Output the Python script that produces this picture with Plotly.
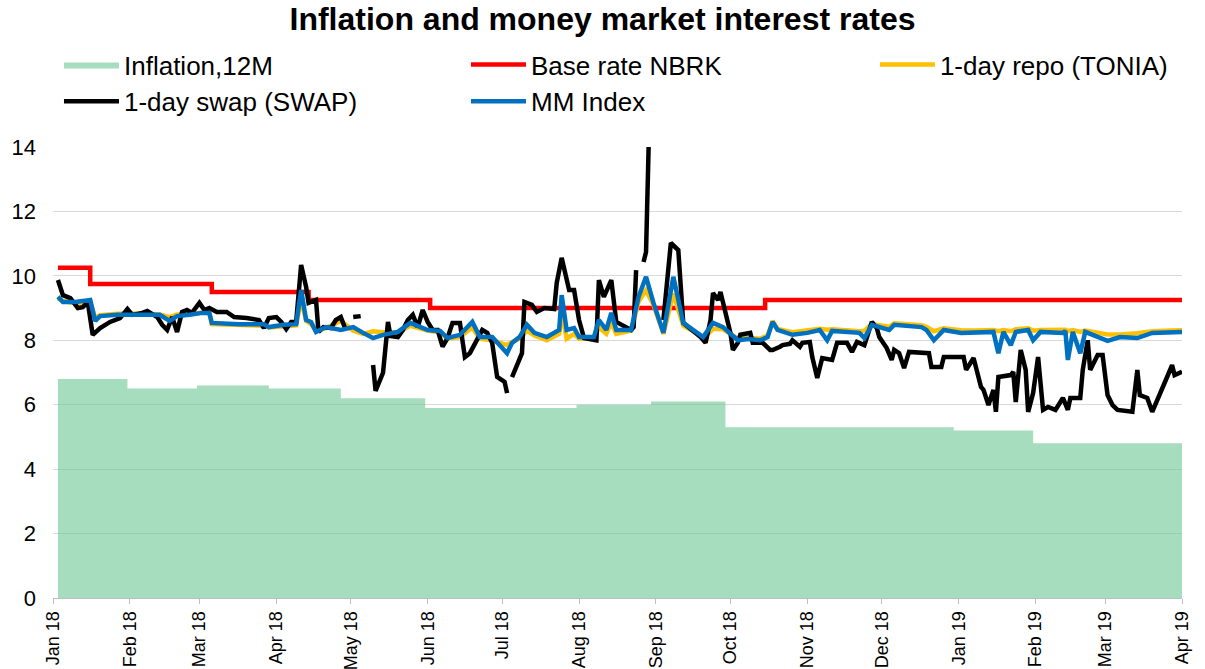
import plotly.graph_objects as go
import pandas as pd

# daily series are keyed by calendar day counted from 1 Jan 2018
START = pd.Timestamp('2018-01-01')

infl_dates = ['2018-01-03', '2018-01-31', '2018-02-28', '2018-03-29', '2018-04-27', '2018-05-31',
              '2018-07-31', '2018-08-30', '2018-09-29', '2018-12-30', '2019-01-31', '2019-04-01']
infl_12m = [6.8, 6.5, 6.6, 6.5, 6.2, 5.9, 6.0, 6.1, 5.3, 5.2, 4.8, 4.8]

base_dates = ['2018-01-03', '2018-01-16', '2018-03-06', '2018-04-14', '2018-06-02', '2018-10-15', '2019-04-01']
base_rate = [10.25, 9.75, 9.5, 9.25, 9.0, 9.25, 9.25]

mm_day = [2, 4, 9, 14, 15, 17, 19, 26, 35, 43,
          47, 50, 55, 60, 63, 64, 75, 85, 87, 93,
          98, 100, 102, 104, 106, 110, 116, 121, 125, 129,
          133, 139, 144, 151, 156, 159, 164, 169, 172, 177,
          183, 185, 188, 191, 194, 199, 204, 205, 207, 210,
          212, 218, 220, 223, 225, 227, 233, 236, 239, 242,
          246, 250, 254, 260, 262, 266, 270, 276, 280, 285,
          288, 290, 292, 298, 304, 309, 312, 314, 325, 327,
          330, 337, 339, 350, 352, 355, 359, 366, 372, 379,
          381, 383, 386, 388, 393, 395, 398, 407, 408, 409,
          411, 414, 416, 425, 430, 437, 443, 451, 455]
mm_index = [9.35, 9.19, 9.19, 9.25, 9.25, 8.6, 8.75, 8.79, 8.79, 8.79,
            8.6, 8.75, 8.79, 8.85, 8.85, 8.54, 8.5, 8.5, 8.41, 8.48,
            8.5, 9.56, 8.63, 8.57, 8.26, 8.41, 8.32, 8.41, 8.23, 8.07,
            8.17, 8.26, 8.54, 8.32, 8.29, 8.07, 8.17, 8.57, 8.1, 8.1,
            7.6, 7.92, 8.1, 8.48, 8.23, 8.1, 8.32, 9.4, 8.32, 8.38,
            8.1, 8.1, 8.63, 8.32, 8.85, 8.32, 8.32, 9.35, 9.97, 9.16,
            8.23, 9.97, 8.54, 8.23, 8.1, 8.54, 8.41, 8.0, 8.04, 8.0,
            8.1, 8.57, 8.32, 8.17, 8.23, 8.32, 8.0, 8.29, 8.23, 8.07,
            8.48, 8.32, 8.48, 8.41, 8.32, 8.0, 8.32, 8.23, 8.23, 8.26,
            7.6, 8.26, 7.85, 8.26, 8.32, 8.0, 8.26, 8.23, 8.29, 7.39,
            8.26, 7.6, 8.26, 7.98, 8.1, 8.07, 8.23, 8.26, 8.26]
tonia = [9.3, 9.22, 9.15, 9.2, 9.2, 8.7, 8.78, 8.82, 8.83, 8.8,
         8.72, 8.8, 8.8, 8.86, 8.85, 8.5, 8.46, 8.45, 8.4, 8.45,
         8.46, 9.3, 8.6, 8.5, 8.3, 8.38, 8.6, 8.3, 8.2, 8.28,
         8.25, 8.25, 8.45, 8.3, 8.25, 8.05, 8.1, 8.4, 8.05, 8.0,
         7.85, 7.95, 8.05, 8.3, 8.15, 8.0, 8.2, 8.9, 8.05, 8.2,
         8.05, 8.05, 8.4, 8.2, 8.55, 8.2, 8.3, 9.2, 9.55, 9.1,
         8.2, 9.45, 8.45, 8.2, 8.05, 8.35, 8.35, 8.05, 8.08, 8.05,
         8.15, 8.6, 8.35, 8.25, 8.3, 8.36, 8.33, 8.34, 8.28, 8.3,
         8.5, 8.42, 8.53, 8.47, 8.42, 8.28, 8.37, 8.31, 8.3, 8.32,
         8.28, 8.32, 8.28, 8.34, 8.37, 8.3, 8.32, 8.3, 8.33, 8.28,
         8.32, 8.26, 8.3, 8.18, 8.18, 8.22, 8.28, 8.3, 8.31]

# None = no quote that day (gaps in the line)
swap_day = [2, 4, 7, 10, 12, 14, 16, 19, 23, 27,
            30, 32, 36, 38, 42, 44, 46, 48, 50, 52,
            54, 56, 59, 61, 63, 66, 70, 73, 78, 83,
            85, 87, 90, 92, 94, 96, 98, 100, 102, 103,
            106, 107, 109, 112, 114, 116, 118, 119, 121, 124,
            126, 129, 130, 133, 135, 136, 139, 141, 143, 145,
            147, 149, 151, 153, 155, 157, 159, 161, 164, 165,
            166, 168, 171, 173, 175, 177, 179, 181, 182, 183,
            184, 185, 189, 190, 193, 195, 198, 202, 203, 205,
            208, 210, 212, 214, 219, 220, 222, 225, 227, 233,
            234, 235, 236, 238, 239, 241, 242, 246, 249, 252,
            254, 256, 261, 263, 265, 266, 268, 269, 272, 273,
            274, 276, 277, 281, 282, 286, 289, 290, 293, 294,
            297, 298, 301, 302, 305, 306, 308, 310, 314, 316,
            320, 322, 324, 327, 330, 332, 333, 336, 338, 339,
            341, 343, 345, 353, 354, 358, 359, 367, 368, 371,
            374, 375, 377, 379, 380, 381, 386, 387, 388, 390,
            392, 393, 395, 397, 399, 401, 404, 407, 409, 410,
            414, 415, 417, 418, 421, 423, 425, 427, 429, 433,
            435, 437, 438, 441, 443, 449, 451, 452, 455]
swap = [9.87, 9.4, 9.31, 9.0, 9.03, 9.19, 8.17, 8.38, 8.57, 8.69,
        8.97, 8.79, 8.85, 8.91, 8.72, 8.48, 8.32, 8.72, 8.26, 8.88,
        8.94, 8.85, 9.16, 8.94, 9.0, 8.88, 8.88, 8.72, 8.69, 8.63,
        8.38, 8.69, 8.72, 8.57, 8.35, 8.57, 8.57, 10.34, 9.66, 9.16,
        9.25, 8.26, 8.41, 8.38, 8.63, 8.72, 8.32, None, 8.72, 8.75,
        None, 7.23, 6.43, 6.99, 8.57, 8.13, 8.1, 8.32, 8.63, 8.79,
        8.41, 8.94, 8.57, 8.32, 8.32, 7.8, 8.07, 8.54, 8.54, 8.0,
        7.48, 7.6, 8.0, 8.32, 8.23, 7.92, 6.86, 6.77, 6.71, 6.36,
        None, 6.86, 7.6, 9.19, 9.1, 8.88, 9.0, 8.97, 9.78, 10.56,
        9.56, 9.56, 8.63, 8.07, 8.0, 9.87, 9.35, 9.87, 8.57, 8.32,
        8.41, 10.18, None, 10.43, 10.74, 17.0, None, 8.63, 11.02, 10.8,
        8.54, 8.41, 8.1, 7.92, 8.63, 9.47, 9.25, 9.5, 8.63, 8.23,
        7.7, 7.92, 8.17, 8.23, 7.92, 7.92, 7.7, 7.7, 7.8, 7.85,
        7.89, 8.0, 7.8, 7.92, 7.95, 7.48, 6.83, 7.45, 7.39, 7.92,
        7.92, 7.64, 7.95, 7.85, 8.57, 8.38, 8.1, 7.76, 7.39, 7.7,
        7.6, 7.14, 7.64, 7.6, 7.17, 7.17, 7.48, 7.48, 7.08, 7.45,
        6.55, 6.46, 5.99, 6.46, 5.78, 6.86, 6.92, 7.02, 6.08, 7.7,
        7.08, 5.78, 6.36, 7.48, 5.84, 5.93, 5.84, 6.21, 5.84, 6.21,
        6.21, 7.08, 8.0, 7.08, 7.54, 7.54, 6.3, 5.99, 5.84, 5.78,
        5.78, 7.08, 6.3, 6.21, 5.78, 6.86, 7.23, 6.92, 7.02]


def to_dates(days):
    return START + pd.to_timedelta(days, unit='D')


FONT = 'Arial, "Liberation Sans", sans-serif'

fig = go.Figure()
fig.add_trace(go.Scatter(
    x=infl_dates, y=infl_12m, name='Inflation,12M', mode='lines',
    line=dict(width=0, shape='hv'), fill='tozeroy', fillcolor='rgba(107,198,148,0.6)'
))
fig.add_trace(go.Scatter(
    x=base_dates, y=base_rate, name='Base rate NBRK', mode='lines',
    line=dict(color='#ff0000', width=4.5, shape='hv')
))
fig.add_trace(go.Scatter(
    x=to_dates(mm_day), y=tonia, name='1-day repo (TONIA)', mode='lines',
    line=dict(color='#ffc000', width=4.5), legend='legend2'
))
fig.add_trace(go.Scatter(
    x=to_dates(swap_day), y=swap, name='1-day swap (SWAP)', mode='lines',
    line=dict(color='#000000', width=4.5), connectgaps=False
))
fig.add_trace(go.Scatter(
    x=to_dates(mm_day), y=mm_index, name='MM Index', mode='lines',
    line=dict(color='#0070c0', width=4.5)
))

legend_style = dict(
    orientation='h', xanchor='left', yanchor='top', y=1.235,
    itemwidth=55, entrywidth=337, entrywidthmode='pixels',
    font=dict(family=FONT, size=26, color='#000000'),
    bgcolor='rgba(0,0,0,0)', traceorder='normal'
)

fig.update_layout(
    width=1205, height=669,
    margin=dict(l=53, r=23, t=147, b=71, autoexpand=False),
    plot_bgcolor='white', paper_bgcolor='white',
    font=dict(family=FONT, color='#000000'),
    title=dict(
        text='<b>Inflation and money market interest rates</b>',
        x=0.5, xref='container', xanchor='center',
        y=0.972, yref='container', yanchor='middle',
        font=dict(family=FONT, size=32, color='#000000')
    ),
    legend=dict(legend_style, x=0.0053),
    legend2=dict(legend_style, x=0.728, entrywidth=240),
    xaxis=dict(
        type='date', range=['2018-01-01', '2019-04-01'],
        tick0='2018-01-01', dtick='M1', tickformat='%b %y', tickangle=-90,
        ticks='outside', ticklen=5, tickcolor='#bfbfbf',
        showline=True, linecolor='#bfbfbf', linewidth=1,
        showgrid=False, zeroline=False,
        tickfont=dict(family=FONT, size=18, color='#000000')
    ),
    yaxis=dict(
        range=[0, 14], dtick=2, showgrid=True, gridcolor='#d9d9d9', gridwidth=1,
        zeroline=False, showline=False, ticklabelstandoff=16,
        tickfont=dict(family=FONT, size=22, color='#000000')
    ),
)

# the page body has a default margin; drop it so the figure fills the window exactly
fig.write_html("out.html", config={'displayModeBar': False},
               post_script="document.body.style.margin='0';")
